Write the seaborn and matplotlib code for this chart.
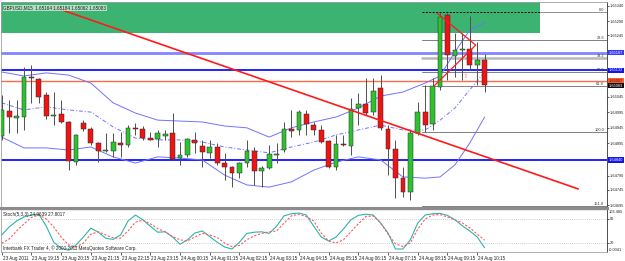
import numpy as np
import pandas as pd
import matplotlib
matplotlib.use("Agg")
import matplotlib.pyplot as plt
import matplotlib.transforms as mtransforms
import seaborn as sns

sns.set_style("white")
plt.rcParams['font.family'] = ['Liberation Sans', 'DejaVu Sans']

# ---------------- data (GBPUSD M15) ----------------
opens = [1.64919, 1.65000, 1.64977, 1.64980, 1.65110, 1.65103, 1.65051, 1.64983, 1.64990, 1.64964,
         1.64834, 1.64961, 1.64941, 1.64896, 1.64870, 1.64870, 1.64896, 1.64889, 1.64945, 1.64941,
         1.64912, 1.64909, 1.64919, 1.64928, 1.64847, 1.64857, 1.64906, 1.64886, 1.64864, 1.64883,
         1.64831, 1.64818, 1.64799, 1.64831, 1.64870, 1.64805, 1.64815, 1.64857, 1.64873, 1.64941,
         1.64938, 1.64990, 1.64954, 1.64938, 1.64902, 1.64818, 1.64893, 1.64886, 1.65009, 1.65022,
         1.64996, 1.65074, 1.64941, 1.64876, 1.64782, 1.64737, 1.64928, 1.64996, 1.64957, 1.65077,
         1.65311, 1.65178, 1.65197, 1.65200, 1.65149, 1.65164]
highs = [1.65051, 1.65035, 1.65035, 1.65142, 1.65149, 1.65106, 1.65061, 1.65061, 1.65035, 1.64966,
         1.64924, 1.64970, 1.64948, 1.64898, 1.64928, 1.64928, 1.64932, 1.64954, 1.64961, 1.64951,
         1.64932, 1.64938, 1.64938, 1.64993, 1.64899, 1.64912, 1.64932, 1.64906, 1.64906, 1.64896,
         1.64864, 1.64821, 1.64834, 1.64906, 1.64883, 1.64821, 1.64889, 1.64896, 1.64964, 1.65003,
         1.65003, 1.65003, 1.64964, 1.64954, 1.64905, 1.64922, 1.64922, 1.65042, 1.65058, 1.65107,
         1.65107, 1.65116, 1.64954, 1.64906, 1.64818, 1.64938, 1.65029, 1.65084, 1.65107, 1.65317,
         1.65317, 1.65252, 1.65252, 1.65307, 1.65223, 1.65184]
lows = [1.64906, 1.64928, 1.64928, 1.64938, 1.65026, 1.65026, 1.64974, 1.64954, 1.64961, 1.64808,
        1.64825, 1.64935, 1.64889, 1.64834, 1.64867, 1.64851, 1.64851, 1.64883, 1.64922, 1.64906,
        1.64904, 1.64883, 1.64906, 1.64841, 1.64825, 1.64851, 1.64864, 1.64818, 1.64847, 1.64825,
        1.64776, 1.64753, 1.64782, 1.64818, 1.64760, 1.64753, 1.64812, 1.64831, 1.64867, 1.64915,
        1.64922, 1.64922, 1.64922, 1.64896, 1.64815, 1.64808, 1.64886, 1.64857, 1.64954, 1.64987,
        1.64987, 1.64938, 1.64792, 1.64718, 1.64721, 1.64711, 1.64922, 1.64932, 1.64938, 1.65068,
        1.65100, 1.65110, 1.65100, 1.65132, 1.65084, 1.65062]
closes = [1.65003, 1.64980, 1.64983, 1.65110, 1.65107, 1.65045, 1.64983, 1.64987, 1.64964, 1.64838,
          1.64922, 1.64941, 1.64896, 1.64870, 1.64873, 1.64899, 1.64889, 1.64945, 1.64941, 1.64912,
          1.64906, 1.64928, 1.64925, 1.64844, 1.64857, 1.64909, 1.64896, 1.64867, 1.64883, 1.64831,
          1.64818, 1.64799, 1.64831, 1.64870, 1.64805, 1.64815, 1.64860, 1.64860, 1.64941, 1.64935,
          1.64996, 1.64957, 1.64938, 1.64899, 1.64818, 1.64893, 1.64889, 1.65006, 1.65022, 1.64993,
          1.65064, 1.64945, 1.64876, 1.64782, 1.64737, 1.64928, 1.64996, 1.64954, 1.65081, 1.65304,
          1.65181, 1.65197, 1.65200, 1.65149, 1.65164, 1.65083]

tick_idx = [0, 4, 8, 12, 16, 20, 24, 28, 32, 36, 40, 44, 48, 52, 56, 60, 64]
tick_labels = ["23 Aug 2011", "23 Aug 19:15", "23 Aug 20:15", "23 Aug 21:15", "23 Aug 22:15",
               "23 Aug 23:15", "24 Aug 00:15", "24 Aug 01:15", "24 Aug 02:15", "24 Aug 03:15",
               "24 Aug 04:15", "24 Aug 05:15", "24 Aug 06:15", "24 Aug 07:15", "24 Aug 08:15",
               "24 Aug 09:15", "24 Aug 10:15"]

band_idx = [0, 3, 6, 9, 12, 15, 18, 21, 24, 27, 30, 33, 36, 39, 42, 45, 48, 51, 54, 57, 59, 61, 63, 65]
band_upper = [1.65126, 1.65113, 1.65123, 1.65116, 1.65090, 1.65026, 1.64993, 1.64970, 1.64967, 1.64964,
              1.64951, 1.64945, 1.64915, 1.64945, 1.64964, 1.64980, 1.65009, 1.65048, 1.65061, 1.65090,
              1.65113, 1.65191, 1.65262, 1.65285]
band_mid = [1.65026, 1.65003, 1.65013, 1.65003, 1.64996, 1.64948, 1.64912, 1.64906, 1.64906, 1.64899,
            1.64883, 1.64873, 1.64864, 1.64883, 1.64899, 1.64922, 1.64938, 1.64954, 1.64938, 1.64938,
            1.64970, 1.65009, 1.65068, 1.65126]
band_lower = [1.64915, 1.64880, 1.64880, 1.64873, 1.64883, 1.64851, 1.64831, 1.64851, 1.64847, 1.64841,
              1.64792, 1.64760, 1.64753, 1.64770, 1.64808, 1.64834, 1.64851, 1.64841, 1.64786, 1.64782,
              1.64786, 1.64825, 1.64896, 1.64980]

stoch_main = [40, 60, 75, 85, 90, 92, 62, 22, 7, 2, 15, 35, 57, 47, 32, 29, 40, 75, 90, 78,
              62, 47, 48, 35, 17, 28, 45, 50, 36, 22, 10, 5, 22, 44, 47, 48, 44, 62, 88, 93,
              95, 90, 62, 35, 25, 35, 55, 78, 89, 92, 90, 70, 45, 5, 5, 28, 70, 90, 93, 94,
              89, 78, 63, 50, 35, 8]
stoch_signal = [19, 30, 50, 68, 84, 90, 80, 60, 35, 15, 10, 20, 42, 48, 40, 33, 32, 50, 72, 77,
                68, 56, 48, 36, 28, 25, 35, 44, 40, 34, 20, 11, 14, 28, 38, 44, 48, 50, 70, 88,
                92, 86, 75, 45, 25, 20, 28, 48, 68, 86, 88, 70, 42, 18, 11, 20, 55, 80, 90, 91,
                85, 78, 70, 58, 42, 27]

# drawn objects
h_lightblue = 1.65188
h_blue_top = 1.65132
h_orange = 1.65097
h_blue_bot = 1.64841
trend_x = [6.9, 77.6]
trend_y = [1.65337, 1.64747]
rect_x = [-0.5, 72.45]
rect_y = [1.65252, 1.65400]
fib_x0 = 56.6
fib_high = 1.65320
fib_low = 1.64932
fib_levels = [0.0, 23.6, 38.2, 50.0, 61.8, 100.0, 161.8]
tri_x = [58.6, 63.8, 58.2]
tri_y = [1.65317, 1.65213, 1.65081]

price_ticks = [1.65340, 1.65290, 1.65245, 1.65045, 1.64995, 1.64945, 1.64895, 1.64790, 1.64745, 1.64695]

# ---------------- figure ----------------
W, H = 625, 261
FS = 2.8
fig = plt.figure(figsize=(W / 100, H / 100), dpi=100)
ax = fig.add_axes([1 / W, 1 - 208 / H, 606 / W, 206 / H])
ax2 = fig.add_axes([1 / W, 1 - 252 / H, 606 / W, 43 / H], sharex=ax)

XMIN, XMAX = -0.094, 81.47
YMIN, YMAX = 1.646853, 1.653527
ax.set_xlim(XMIN, XMAX)
ax.set_ylim(YMIN, YMAX)

df = pd.DataFrame({"o": opens, "h": highs, "l": lows, "c": closes})
df["i"] = np.arange(len(df))
up = df["c"] >= df["o"]

# green rectangle
ax.fill_between(rect_x, rect_y[0], rect_y[1], color="#3CB371", lw=0, zorder=0)

# horizontal lines
ax.axhline(h_lightblue, color="#8484FF", lw=2.0, zorder=1)
ax.axhline(h_blue_top, color="#1010FF", lw=1.3, zorder=1)
ax.axhline(h_orange, color="#FF6A4A", lw=1.0, zorder=1)
ax.axhline(h_blue_bot, color="#1010FF", lw=1.3, zorder=1)

# fibonacci
fib_tr = mtransforms.blended_transform_factory(ax.transAxes, ax.transData)
for lvl in fib_levels:
    p = fib_high - (fib_high - fib_low) * lvl / 100.0
    if lvl == 0.0:
        ax.plot([fib_x0, 72.45], [p, p], color="black", lw=0.7, ls=(0, (2, 1.5)), zorder=2)
        ax.plot([72.45, XMAX], [p, p], color="#909090", lw=0.7, zorder=2)
    elif lvl == 38.2:
        ax.plot([fib_x0, XMAX], [p, p], color="#B8B8B8", lw=1.8, zorder=1.5)
    else:
        ax.plot([fib_x0, XMAX], [p, p], color="#808080", lw=0.7, zorder=2)
    ax.text(0.995, p, f"{lvl:.1f}", transform=fib_tr, ha="right", va="bottom",
            fontsize=FS, color="#333333", zorder=6)

# bollinger bands
sns.lineplot(x=band_idx, y=band_upper, ax=ax, color="#7272FF", lw=0.7, zorder=3)
sns.lineplot(x=band_idx, y=band_lower, ax=ax, color="#7272FF", lw=0.7, zorder=3)
sns.lineplot(x=band_idx, y=band_mid, ax=ax, color="#7272FF", lw=0.7, zorder=3,
             linestyle=(0, (4, 2, 1, 2)))

# candles
ax.vlines(df["i"], df["l"], df["h"], color="#505050", lw=0.7, zorder=4)
body_h = (df["c"] - df["o"]).abs().clip(lower=0.000012)
ax.bar(df["i"][up], body_h[up], bottom=df[["o", "c"]].min(axis=1)[up], width=0.64,
       color="#2FC22F", edgecolor="#2a2a2a", lw=0.35, zorder=5)
ax.bar(df["i"][~up], body_h[~up], bottom=df[["o", "c"]].min(axis=1)[~up], width=0.64,
       color="#EE1414", edgecolor="#2a2a2a", lw=0.35, zorder=5)

# trend line and triangle
sns.lineplot(x=trend_x, y=trend_y, ax=ax, color="#FF1A1A", lw=1.2, zorder=6)
sns.lineplot(x=tri_x, y=tri_y, ax=ax, color="#FF1A1A", lw=0.9, sort=False, zorder=6)
ax.text(62.5, 1.65113, "\u21e7", color="#FF8C8C", fontsize=5, ha="center", va="center",
        family="DejaVu Sans", zorder=6)

# title
ax.text(0.004, 0.985, "GBPUSD,M15  1.65164 1.65184 1.65062 1.65083", transform=ax.transAxes,
        ha="left", va="top", fontsize=3.3, color="#202020", zorder=7,
        bbox=dict(boxstyle="square,pad=0.1", fc="#CFEBD8", ec="none", alpha=0.8))

# right price axis
ax.yaxis.tick_right()
ax.set_yticks(price_ticks)
ax.set_yticklabels([f"{v:.5f}" for v in price_ticks])
ax.tick_params(axis="y", length=1.5, width=0.5, pad=0.5, labelsize=FS, colors="#202020")
ax.tick_params(axis="x", bottom=False, labelbottom=False)
ax.set_xlabel("")
ax.set_ylabel("")

lab_tr = mtransforms.blended_transform_factory(ax.transAxes, ax.transData)
for price, fc, tc, txt in [(h_lightblue, "#3A3AFF", "white", "1.65187"),
                           (h_blue_top, "#1414E6", "white", "1.65132"),
                           (h_orange, "#FF5A28", "#202020", "1.65097"),
                           (1.65081, "#101010", "white", "1.65083"),
                           (h_blue_bot, "#1414E6", "white", "1.64840")]:
    ax.text(1.003, price, txt, transform=lab_tr, ha="left", va="center", fontsize=FS,
            color=tc, clip_on=False, zorder=8,
            bbox=dict(boxstyle="square,pad=0.15", fc=fc, ec="none"))

for s in ["left", "top"]:
    ax.spines[s].set_color("#A0A0A0")
    ax.spines[s].set_linewidth(0.6)
ax.spines["right"].set_color("#303030")
ax.spines["right"].set_linewidth(0.6)
ax.spines["bottom"].set_color("#8C8C8C")
ax.spines["bottom"].set_linewidth(2.2)

# ---------------- stochastic panel ----------------
idx = list(range(len(stoch_main)))
ax2.set_ylim(-2.5, 105)
for lv in (80, 20):
    ax2.axhline(lv, color="#A8A8A8", lw=0.5, ls=(0, (1, 2)), zorder=1)
sns.lineplot(x=idx, y=stoch_main, ax=ax2, color="#2EB4AC", lw=0.8, zorder=3)
sns.lineplot(x=idx, y=stoch_signal, ax=ax2, color="#FF5A5A", lw=0.8,
             linestyle=(0, (2, 1.5)), zorder=3)
ax2.set_xlim(XMIN, XMAX)
ax2.yaxis.tick_right()
ax2.set_yticks([80, 20])
ax2.set_yticklabels(["80", "20"])
ax2.tick_params(axis="y", length=1.5, width=0.5, pad=0.5, labelsize=FS, colors="#202020")
ax2.text(1.003, 0.93, "103.485", transform=ax2.transAxes, ha="left", va="center",
         fontsize=FS, color="#202020", clip_on=False)
ax2.text(1.003, 0.04, "-0.0041", transform=ax2.transAxes, ha="left", va="center",
         fontsize=FS, color="#202020", clip_on=False)
ax2.text(0.004, 0.93, "Stoch(5,3,3) 24.9639 27.8017", transform=ax2.transAxes, ha="left",
         va="top", fontsize=3.3, color="#202020")
ax2.text(0.004, 0.03, "Interbank FX Trader 4, \u00a9 2000-2011 MetaQuotes Software Corp.",
         transform=ax2.transAxes, ha="left", va="bottom", fontsize=3.3, color="#202020")

ax2.set_xticks(tick_idx)
ax2.set_xticklabels(tick_labels)
ax2.tick_params(axis="x", length=2, width=0.5, pad=0.8, labelsize=3.3, colors="#202020",
                bottom=True)
offset = mtransforms.ScaledTranslation(1.0 / 100, 0, fig.dpi_scale_trans)
for lbl in ax2.get_xticklabels():
    lbl.set_ha("left")
    lbl.set_transform(lbl.get_transform() + offset)
ax2.set_xlabel("")
ax2.set_ylabel("")
for s in ["left", "bottom"]:
    ax2.spines[s].set_color("#A0A0A0")
    ax2.spines[s].set_linewidth(0.6)
ax2.spines["top"].set_color("#8C8C8C")
ax2.spines["top"].set_linewidth(1.0)
ax2.spines["right"].set_color("#303030")
ax2.spines["right"].set_linewidth(0.6)

fig.savefig("out.png", dpi=100)
